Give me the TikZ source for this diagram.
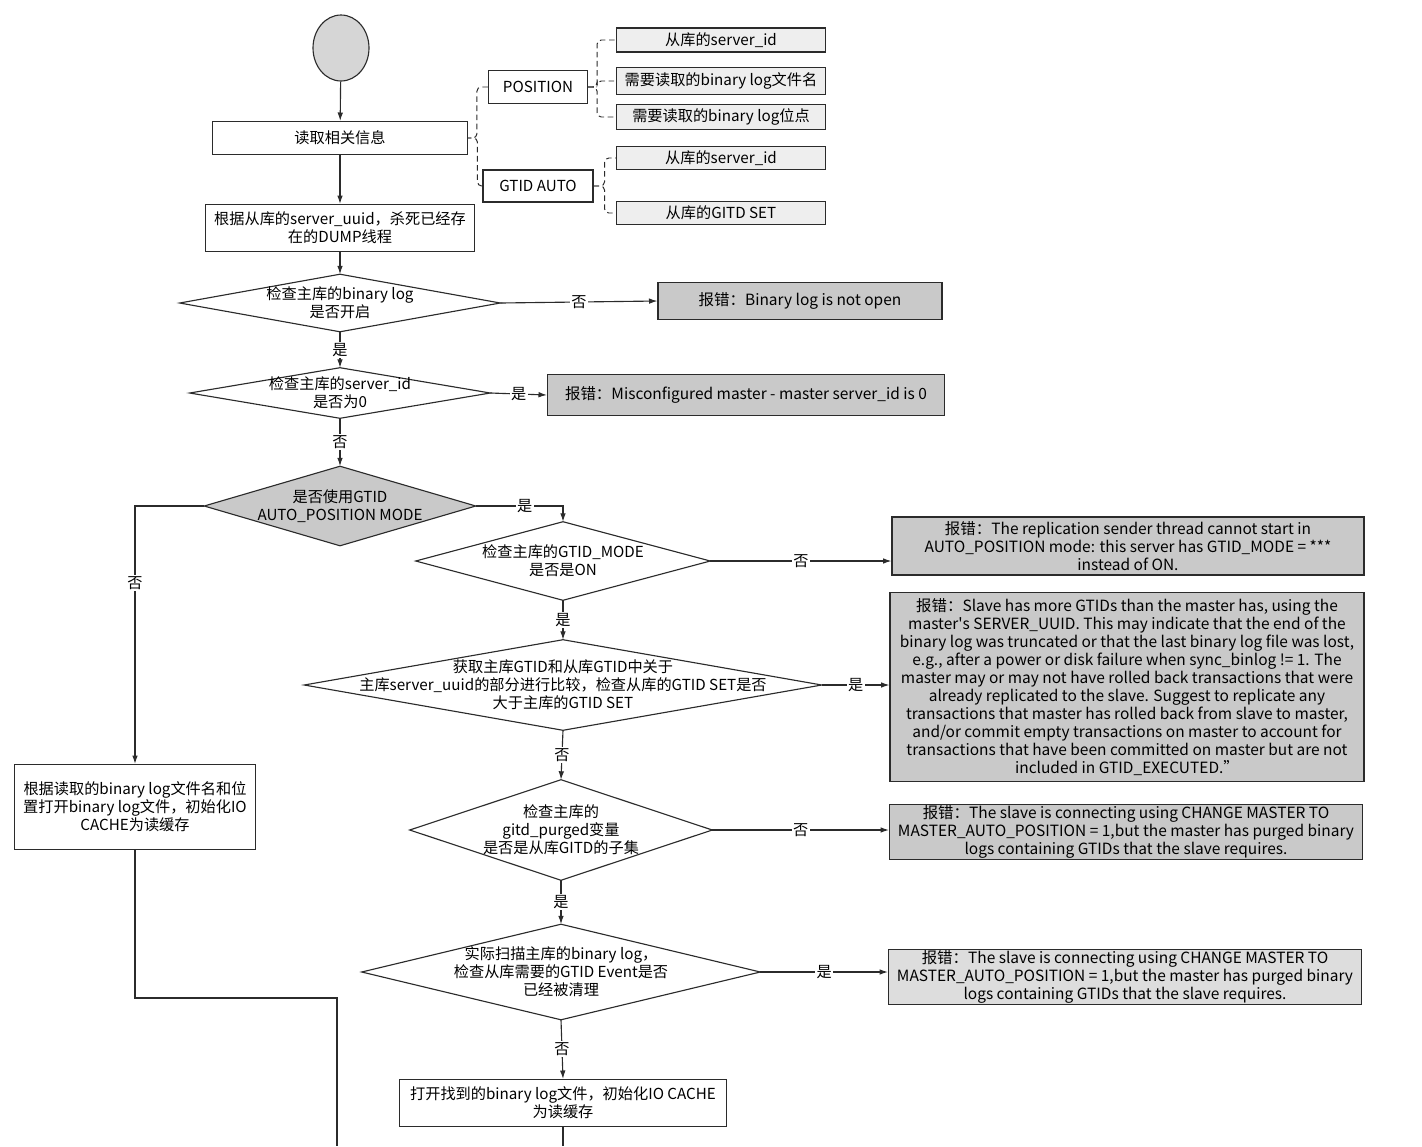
\documentclass[tikz,border=0pt]{standalone}
\usepackage{fontspec}
\setmainfont{Noto Sans CJK SC}
\usetikzlibrary{shapes.geometric,arrows.meta,backgrounds,calc}
\definecolor{ink}{HTML}{2B2B2B}
\definecolor{errbg}{HTML}{C9C9C9}
\definecolor{errlt}{HTML}{DDDDDD}
\definecolor{keybg}{HTML}{EEEEEE}
\definecolor{startbg}{HTML}{D6D6D6}
\newcommand\pxu{0.025cm}
\tikzset{
  base/.style={draw=ink, line width=0.8pt},
  flow/.style={base, -{Latex[length=6pt,width=4pt]}},
  link/.style={base, line width=0.7pt, dash pattern=on 4pt off 2.5pt, rounded corners=3pt},
  box/.style={base, rectangle, align=center, inner sep=0pt, font=\fontsize{10.8}{12.8}\selectfont},
  err/.style={box, fill=errbg, font=\fontsize{11}{12.8}\selectfont},
  key/.style={box, fill=keybg},
  decide/.style={rectangle, align=center, inner sep=0pt, font=\fontsize{10.8}{12.8}\selectfont},
  lbl/.style={fill=white, inner sep=1pt, font=\fontsize{10.8}{12}\selectfont},
}

\begin{document}
\begin{tikzpicture}[x=\pxu, y=-\pxu]
  \useasboundingbox (0,0) rectangle (1422,1146);

  % main column
  \node[base, ellipse, fill=startbg, minimum width=56*\pxu, minimum height=66*\pxu] (start) at (341,48) {};
  \node[box, minimum width=255*\pxu, minimum height=33*\pxu] (info) at (340,138) {读取相关信息};
  \node[box, minimum width=269*\pxu, minimum height=47*\pxu] (kill) at (340,228) {根据从库的server\_uuid，杀死已经存\\在的DUMP线程};
  \node[decide, minimum width=320*\pxu, minimum height=57*\pxu] (d1) at (340,303) {检查主库的binary log\\是否开启};
  \node[decide, minimum width=300*\pxu, minimum height=50*\pxu] (d2) at (340,393) {检查主库的server\_id\\是否为0};
  \node[decide, minimum width=271*\pxu, minimum height=79*\pxu] (d3) at (340,506) {是否使用GTID\\AUTO\_POSITION MODE};
  \node[decide, minimum width=294*\pxu, minimum height=78*\pxu] (d4) at (563,561) {检查主库的GTID\_MODE\\是否是ON};
  \node[decide, minimum width=517*\pxu, minimum height=90*\pxu] (d5) at (563,685) {获取主库GTID和从库GTID中关于\\主库server\_uuid的部分进行比较，检查从库的GTID SET是否\\大于主库的GTID SET};
  \node[decide, minimum width=302*\pxu, minimum height=100*\pxu] (d6) at (561,830) {检查主库的\\gitd\_purged变量\\是否是从库GITD的子集};
  \node[decide, minimum width=398*\pxu, minimum height=95*\pxu] (d7) at (561,972) {实际扫描主库的binary log，\\检查从库需要的GTID Event是否\\已经被清理};
  \node[box, minimum width=327*\pxu, minimum height=47*\pxu] (open2) at (563,1103) {打开找到的binary log文件，初始化IO CACHE\\为读缓存};
  \node[box, minimum width=241*\pxu, minimum height=85*\pxu] (open1) at (135,807) {根据读取的binary log文件名和位\\置打开binary log文件，初始化IO\\CACHE为读缓存};

  % read info
  \node[box, minimum width=99*\pxu, minimum height=33*\pxu] (pos) at (538,87) {POSITION};
  \node[box, minimum width=110*\pxu, minimum height=32*\pxu] (ga) at (538,186) {GTID AUTO};
  \node[key, minimum width=209*\pxu, minimum height=24*\pxu] (c1) at (721,40) {从库的server\_id};
  \node[key, minimum width=209*\pxu, minimum height=27*\pxu] (c2) at (721,81) {需要读取的binary log文件名};
  \node[key, minimum width=209*\pxu, minimum height=25*\pxu] (c3) at (721,117) {需要读取的binary log位点};
  \node[key, minimum width=209*\pxu, minimum height=23*\pxu] (g1) at (721,158) {从库的server\_id};
  \node[key, minimum width=209*\pxu, minimum height=23*\pxu] (g2) at (721,213) {从库的GITD SET};

  % errors
  \node[err, minimum width=284*\pxu, minimum height=37*\pxu] (err1) at (800,301) {报错：Binary log is not open};
  \node[err, minimum width=397*\pxu, minimum height=41*\pxu] (err2) at (746,395) {报错：Misconfigured master - master server\_id is 0};
  \node[err, minimum width=472*\pxu, minimum height=58*\pxu] (err3) at (1128,546) {报错：The replication sender thread cannot start in\\AUTO\_POSITION mode: this server has GTID\_MODE = ***\\instead of ON.};
  \node[err, minimum width=474*\pxu, minimum height=189*\pxu] (err4) at (1127,687) {报错：Slave has more GTIDs than the master has, using the\\master\textquotesingle s SERVER\_UUID. This may indicate that the end of the\\binary log was truncated or that the last binary log file was lost,\\e.g., after a power or disk failure when sync\_binlog != 1. The\\master may or may not have rolled back transactions that were\\already replicated to the slave. Suggest to replicate any\\transactions that master has rolled back from slave to master,\\and/or commit empty transactions on master to account for\\transactions that have been committed on master but are not\\included in GTID\_EXECUTED.”};
  \node[err, minimum width=473*\pxu, minimum height=55*\pxu] (err5) at (1126,832) {报错：The slave is connecting using CHANGE MASTER TO\\MASTER\_AUTO\_POSITION = 1,but the master has purged binary\\logs containing GTIDs that the slave requires.};
  \node[err, fill=errlt, minimum width=473*\pxu, minimum height=55*\pxu] (err6) at (1125,977) {报错：The slave is connecting using CHANGE MASTER TO\\MASTER\_AUTO\_POSITION = 1,but the master has purged binary\\logs containing GTIDs that the slave requires.};

  \begin{scope}[on background layer]
    \foreach \d in {d1,d2,d4,d5,d6,d7}
      \draw[base, fill=white] (\d.north) -- (\d.east) -- (\d.south) -- (\d.west) -- cycle;
    \draw[base, fill=errbg] (d3.north) -- (d3.east) -- (d3.south) -- (d3.west) -- cycle;
  \end{scope}

  % flow
  \draw[flow] (start) -- (info);
  \draw[flow] (info) -- (kill);
  \draw[flow] (kill) -- (d1.north);
  \draw[flow] (d1.south) -- node[lbl] {是} (d2.north);
  \draw[flow] (d2.south) -- node[lbl] {否} (d3.north);
  \draw[flow] (d3.east) -| node[lbl, pos=0.28] {是} (d4.north);
  \draw[flow] (d4.south) -- node[lbl] {是} (d5.north);
  \draw[flow] (d5.south) -- node[lbl] {否} (d6.north);
  \draw[flow] (d6.south) -- node[lbl] {是} (d7.north);
  \draw[flow] (d7.south) -- node[lbl] {否} (open2.north);
  \draw[flow] (d3.west) -| node[lbl, pos=0.65] {否} (open1.north);

  \draw[flow] (d1.east) -- node[lbl] {否} (err1.west);
  \draw[flow] (d2.east) -- node[lbl] {是} (err2.west);
  \draw[flow] (d4.east) -- node[lbl] {否} (err3.west |- d4.east);
  \draw[flow] (d5.east) -- node[lbl] {是} (err4.west |- d5.east);
  \draw[flow] (d6.east) -- node[lbl] {否} (err5.west |- d6.east);
  \draw[flow] (d7.east) -- node[lbl] {是} (err6.west |- d7.east);

  % leave the page
  \coordinate (merge) at (337,998);
  \coordinate (out1) at (337,1146);
  \coordinate (out2) at (563,1146);
  \draw[base] (open1.south) |- (merge) -- (out1);
  \draw[base] (open2.south) -- (out2);

  % dashed braces
  \draw[link] (pos.west) -- ++(-11,0) |- (info.east);
  \draw[link] (ga.west) -- ++(-5,0) |- (info.east);
  \draw[link] (pos.east) -- ++(9,0) |- (c1.west);
  \draw[link] (pos.east) -- ++(9,0) |- (c2.west);
  \draw[link] (pos.east) -- ++(9,0) |- (c3.west);
  \draw[link] (ga.east) -- ++(11,0) |- (g1.west);
  \draw[link] (ga.east) -- ++(11,0) |- (g2.west);
\end{tikzpicture}
\end{document}
